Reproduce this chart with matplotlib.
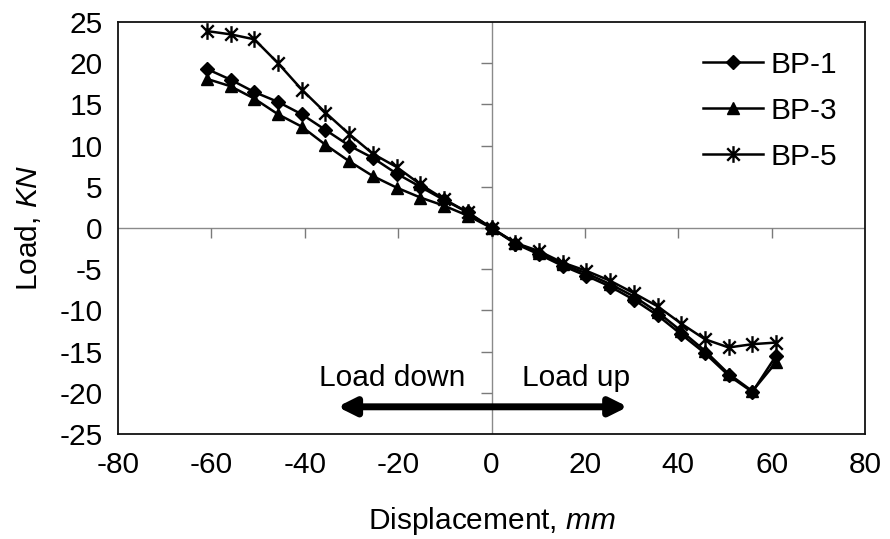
import numpy as np
import matplotlib
matplotlib.use("Agg")
import matplotlib.pyplot as plt
from matplotlib.path import Path

plt.rcParams['font.family'] = ['Liberation Sans', 'DejaVu Sans']
plt.rcParams['mathtext.fontset'] = 'custom'
plt.rcParams['mathtext.it'] = 'Liberation Sans:italic'
plt.rcParams['mathtext.rm'] = 'Liberation Sans'
plt.rcParams['axes.unicode_minus'] = False

# ---- data ----
displacement = [-60.96, -55.88, -50.80, -45.72, -40.64, -35.56, -30.48, -25.40, -20.32, -15.24, -10.16, -5.08,
                0.0, 5.08, 10.16, 15.24, 20.32, 25.40, 30.48, 35.56, 40.64, 45.72, 50.80, 55.88, 60.96]
bp1 = [19.3, 18.0, 16.5, 15.3, 13.8, 11.9, 10.0, 8.5, 6.6, 5.0, 3.4, 1.9,
       0.0, -1.9, -3.2, -4.6, -5.8, -7.1, -8.7, -10.6, -12.9, -15.2, -17.9, -19.9, -15.5]
bp3 = [18.1, 17.2, 15.7, 13.8, 12.3, 10.1, 8.1, 6.3, 4.9, 3.7, 2.7, 1.5,
       0.0, -1.8, -3.0, -4.4, -5.5, -6.8, -8.3, -10.2, -12.5, -14.9, -17.7, -19.8, -16.3]
bp5 = [23.9, 23.5, 22.9, 20.0, 16.8, 14.0, 11.4, 9.0, 7.4, 5.3, 3.5, 1.9,
       0.0, -1.8, -2.8, -4.2, -5.2, -6.4, -7.9, -9.5, -11.6, -13.5, -14.5, -14.1, -13.9]
series_labels = ['BP-1', 'BP-3', 'BP-5']
x_ticks = [-80, -60, -40, -20, 0, 20, 40, 60, 80]
y_ticks = [-25, -20, -15, -10, -5, 0, 5, 10, 15, 20, 25]

FS = 21.5

# asterisk marker (vertical bar + X)
d = 0.75
star = Path([(0, -1), (0, 1), (-d, -d), (d, d), (-d, d), (d, -d)],
            [Path.MOVETO, Path.LINETO, Path.MOVETO, Path.LINETO, Path.MOVETO, Path.LINETO])

fig = plt.figure(figsize=(8.9, 5.39), dpi=100)
ax = fig.add_axes([118/890, 1 - 434/539, (865 - 118)/890, (434 - 22)/539])

# zero axes with tick marks
ax.axhline(0, color='#8a8a8a', lw=1, zorder=1)
ax.axvline(0, color='#8a8a8a', lw=1, zorder=1)
ax.plot(x_ticks[1:-1], [0] * (len(x_ticks) - 2), ls='none', marker=3, ms=7, mew=1,
        color='#7a7a7a', zorder=1)
ax.plot([0] * (len(y_ticks) - 2), y_ticks[1:-1], ls='none', marker=0, ms=8, mew=1,
        color='#7a7a7a', zorder=1)

ax.plot(displacement, bp1, color='black', lw=1.8, marker='D', markersize=7.5, label=series_labels[0], zorder=3)
ax.plot(displacement, bp3, color='black', lw=1.8, marker='^', markersize=9, label=series_labels[1], zorder=3)
ax.plot(displacement, bp5, color='black', lw=1.8, marker=star, markersize=12, markeredgewidth=1.7,
        label=series_labels[2], zorder=3)

ax.set_xlim(-80, 80)
ax.set_ylim(-25, 25)
ax.set_xticks(x_ticks)
ax.set_yticks(y_ticks)
ax.tick_params(axis='both', length=0, labelsize=FS)
ax.tick_params(axis='x', pad=12)
ax.tick_params(axis='y', pad=11)
for s in ax.spines.values():
    s.set_linewidth(1.3)
    s.set_color('#111111')

ax.set_xlabel('Displacement, $\\mathit{mm}$', fontsize=FS, labelpad=19)
ax.set_ylabel('Load, $\\mathit{KN}$', fontsize=FS, labelpad=12)

leg = ax.legend(loc='upper right', frameon=False, fontsize=FS, handlelength=2.0,
                handletextpad=0.25, labelspacing=0.6, bbox_to_anchor=(0.9625, 0.93),
                borderaxespad=0, borderpad=0)

ax.annotate('', xy=(-33, -21.7), xytext=(29.2, -21.7),
            arrowprops=dict(arrowstyle='<|-|>', color='black', lw=5, mutation_scale=26,
                            shrinkA=0, shrinkB=0))
ax.text(-21.3, -19.2, 'Load down', fontsize=FS, ha='center', va='baseline')
ax.text(18.1, -19.2, 'Load up', fontsize=FS, ha='center', va='baseline')

fig.savefig('out.png', dpi=100)
